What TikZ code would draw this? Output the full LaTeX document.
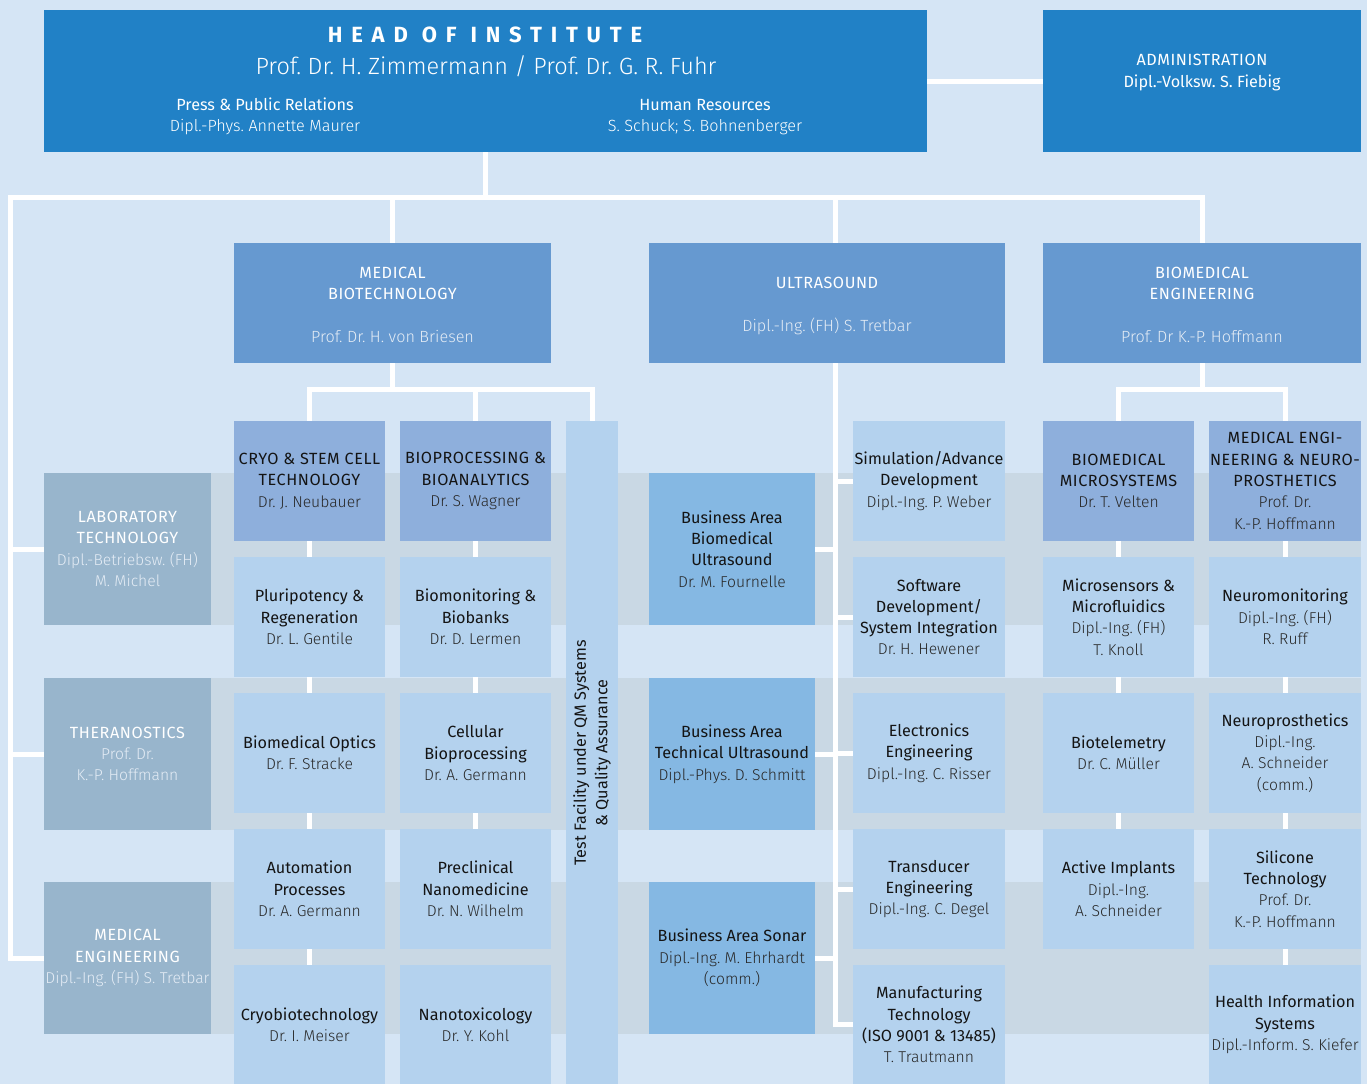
\documentclass[tikz,border=0pt]{standalone}
\usepackage{fontspec}
\setmainfont{Fira Sans}
\newfontfamily\freg{Fira Sans}
\newfontfamily\flight{Fira Sans Light}
\newfontfamily\fcaps{Fira Sans}[LetterSpace=3.5]
\newfontfamily\fspaced{Fira Sans}[LetterSpace=40]
\usetikzlibrary{positioning}
\definecolor{bgc}{RGB}{213,229,245}
\definecolor{bandc}{RGB}{201,216,228}
\definecolor{headc}{RGB}{33,129,198}
\definecolor{lvtwo}{RGB}{102,153,208}
\definecolor{darkc}{RGB}{142,175,220}
\definecolor{lightc}{RGB}{180,210,238}
\definecolor{bac}{RGB}{133,184,227}
\definecolor{grayc}{RGB}{152,181,204}
\definecolor{txtd}{RGB}{20,20,20}
\definecolor{txtn}{RGB}{40,40,40}
\definecolor{wname}{RGB}{228,236,245}
\newcommand\hdf{\freg\color{txtd}}
\newcommand\hcf{\fcaps\color{txtd}}
\newcommand\nmf{\flight\fontsize{15.7}{21.3}\selectfont\color{txtn}}
\newcommand\whf{\fcaps\color{white}}
\newcommand\wnf{\flight\fontsize{15.7}{21.3}\selectfont\color{wname}}
\pgfdeclarelayer{bglayer}
\pgfdeclarelayer{linelayer}
\pgfsetlayers{bglayer,linelayer,main}
\begin{document}
\frenchspacing
\begin{tikzpicture}[x=1pt,y=-1pt,
  box/.style={inner sep=0pt,outer sep=0pt,align=center,
    font=\fontsize{16.2}{21.3}\selectfont},
  headbox/.style={box,fill=headc},
  lvbox/.style={box,fill=lvtwo},
  darkbox/.style={box,fill=darkc},
  lightbox/.style={box,fill=lightc},
  babox/.style={box,fill=bac},
  graybox/.style={box,fill=grayc},
  conn/.style={draw=white,line width=5pt,line cap=rect},
  band/.style={fill=bandc}]
\useasboundingbox (0,0) rectangle (1367,1084);

% ---------- top level
\node[headbox,minimum width=883,minimum height=142] (head) at (485.5,81) {};
\node[headbox,minimum width=318,minimum height=142] (admin) at (1202,81) {};
\node[anchor=base,text=white,font=\fontsize{22}{24}\fspaced\bfseries] (htitle) at (485,42) {HEAD OF INSTITUTE};
\node[anchor=base,text=white,font=\fontsize{23.5}{26}\flight] (hnames) at (486,74) {Prof. Dr. H. Zimmermann / Prof. Dr. G. R. Fuhr};
\node[anchor=base,box,text=white] (press) at (265,110) {\freg Press \& Public Relations};
\node[anchor=base,box,text=white] (pressn) at (265,131) {\flight Dipl.-Phys. Annette Maurer};
\node[anchor=base,box,text=white] (hr) at (705,110) {\freg Human Resources};
\node[anchor=base,box,text=white] (hrn) at (705,131) {\flight S. Schuck; S. Bohnenberger};
\node[anchor=base,box,text=white] (admt) at (1202,65) {\fcaps ADMINISTRATION};
\node[anchor=base,box,text=white] (admn) at (1202,87) {\freg Dipl.-Volksw. S. Fiebig};

% ---------- level 2
\node[lvbox,minimum width=317,minimum height=120] (mb) at (392.5,303) {};
\node[anchor=base,box,text=white] at (392.5,278) {\fcaps MEDICAL};
\node[anchor=base,box,text=white] at (392.5,299) {\fcaps BIOTECHNOLOGY};
\node[anchor=base,box,text=wname] at (392.5,342) {\flight Prof. Dr. H. von Briesen};
\node[lvbox,minimum width=356,minimum height=120] (us) at (827,303) {};
\node[anchor=base,box,text=white] at (827,288) {\fcaps ULTRASOUND};
\node[anchor=base,box,text=wname] at (827,331) {\flight Dipl.-Ing. (FH) S. Tretbar};
\node[lvbox,minimum width=318,minimum height=120] (be) at (1202,303) {};
\node[anchor=base,box,text=white] at (1202,278) {\fcaps BIOMEDICAL};
\node[anchor=base,box,text=white] at (1202,299) {\fcaps ENGINEERING};
\node[anchor=base,box,text=wname] at (1202,342) {\flight Prof. Dr K.-P. Hoffmann};

% ---------- left column
\node[graybox,minimum width=167,minimum height=152] (lab) at (127.5,549) {\whf LABORATORY\\\whf TECHNOLOGY\\\wnf Dipl.-Betriebsw. (FH)\\\wnf M. Michel};
\node[graybox,minimum width=167,minimum height=152] (thera) at (127.5,754) {\whf THERANOSTICS\\\wnf Prof. Dr.\\\wnf K.-P. Hoffmann};
\node[graybox,minimum width=167,minimum height=152] (meden) at (127.5,958) {\whf MEDICAL\\\whf ENGINEERING\\\wnf Dipl.-Ing. (FH) S. Tretbar};

% ---------- medical biotechnology columns
\node[darkbox,minimum width=151,minimum height=120] (cryo) at (309.5,481) {\hcf CRYO \& STEM CELL\\\hcf TECHNOLOGY\\\nmf Dr. J. Neubauer};
\node[lightbox,minimum width=151,minimum height=120] (plur) at (309.5,617) {\hdf Pluripotency \&\\\hdf Regeneration\\\nmf Dr. L. Gentile};
\node[lightbox,minimum width=151,minimum height=120] (optics) at (309.5,753) {\hdf Biomedical Optics\\\nmf Dr. F. Stracke};
\node[lightbox,minimum width=151,minimum height=120] (auto) at (309.5,889) {\hdf Automation\\\hdf Processes\\\nmf Dr. A. Germann};
\node[lightbox,minimum width=151,minimum height=119] (cryob) at (309.5,1024.5) {\hdf Cryobiotechnology\\\nmf Dr. I. Meiser};

\node[darkbox,minimum width=151,minimum height=120] (biop) at (475.5,481) {\hcf BIOPROCESSING \&\\\hcf BIOANALYTICS\\\nmf Dr. S. Wagner};
\node[lightbox,minimum width=151,minimum height=120] (biomon) at (475.5,617) {\hdf Biomonitoring \&\\\hdf Biobanks\\\nmf Dr. D. Lermen};
\node[lightbox,minimum width=151,minimum height=120] (cell) at (475.5,753) {\hdf Cellular\\\hdf Bioprocessing\\\nmf Dr. A. Germann};
\node[lightbox,minimum width=151,minimum height=120] (precl) at (475.5,889) {\hdf Preclinical\\\hdf Nanomedicine\\\nmf Dr. N. Wilhelm};
\node[lightbox,minimum width=151,minimum height=119] (ntox) at (475.5,1024.5) {\hdf Nanotoxicology\\\nmf Dr. Y. Kohl};

\node[lightbox,minimum width=52,minimum height=663] (qm) at (592,752.5) {};
\node[box,rotate=90] (qmt) at (592,753) {\hdf Test Facility under QM Systems\\\hdf \& Quality Assurance};

% ---------- ultrasound
\node[babox,minimum width=166,minimum height=152] (babu) at (732,549) {\hdf Business Area\\\hdf Biomedical\\\hdf Ultrasound\\\nmf Dr. M. Fournelle};
\node[babox,minimum width=166,minimum height=152] (batu) at (732,754) {\hdf Business Area\\\hdf Technical Ultrasound\\\nmf Dipl.-Phys. D. Schmitt};
\node[babox,minimum width=166,minimum height=152] (bas) at (732,958) {\hdf Business Area Sonar\\\nmf Dipl.-Ing. M. Ehrhardt\\\nmf (comm.)};

\node[lightbox,minimum width=152,minimum height=120] (sim) at (929,481) {\hdf Simulation/Advance\\\hdf Development\\\nmf Dipl.-Ing. P. Weber};
\node[lightbox,minimum width=152,minimum height=120] (soft) at (929,617) {\hdf Software\\\hdf Development/\\\hdf System Integration\\\nmf Dr. H. Hewener};
\node[lightbox,minimum width=152,minimum height=120] (elec) at (929,753) {\hdf Electronics\\\hdf Engineering\\\nmf Dipl.-Ing. C. Risser};
\node[lightbox,minimum width=152,minimum height=120] (trans) at (929,889) {\hdf Transducer\\\hdf Engineering\\\nmf Dipl.-Ing. C. Degel};
\node[lightbox,minimum width=152,minimum height=119] (manu) at (929,1024.5) {\hdf Manufacturing\\\hdf Technology\\\hdf (ISO 9001 \& 13485)\\\nmf T. Trautmann};

% ---------- biomedical engineering
\node[darkbox,minimum width=151,minimum height=120] (bms) at (1118.5,481) {\hcf BIOMEDICAL\\\hcf MICROSYSTEMS\\\nmf Dr. T. Velten};
\node[lightbox,minimum width=151,minimum height=120] (micro) at (1118.5,617) {\hdf Microsensors \&\\\hdf Microfluidics\\\nmf Dipl.-Ing. (FH)\\\nmf T. Knoll};
\node[lightbox,minimum width=151,minimum height=120] (btel) at (1118.5,753) {\hdf Biotelemetry\\\nmf Dr. C. M\"uller};
\node[lightbox,minimum width=151,minimum height=120] (actimp) at (1118.5,889) {\hdf Active Implants\\\nmf Dipl.-Ing.\\\nmf A. Schneider};

\node[darkbox,minimum width=152,minimum height=120] (mene) at (1285,481) {\hcf MEDICAL ENGI-\\\hcf NEERING \& NEURO-\\\hcf PROSTHETICS\\\nmf Prof. Dr.\\\nmf K.-P. Hoffmann};
\node[lightbox,minimum width=152,minimum height=120] (nmon) at (1285,617) {\hdf Neuromonitoring\\\nmf Dipl.-Ing. (FH)\\\nmf R. Ruff};
\node[lightbox,minimum width=152,minimum height=120] (npro) at (1285,753) {\hdf Neuroprosthetics\\\nmf Dipl.-Ing.\\\nmf A. Schneider\\\nmf (comm.)};
\node[lightbox,minimum width=152,minimum height=120] (sili) at (1285,889) {\hdf Silicone\\\hdf Technology\\\nmf Prof. Dr.\\\nmf K.-P. Hoffmann};
\node[lightbox,minimum width=152,minimum height=119] (his) at (1285,1024.5) {\hdf Health Information\\\hdf Systems\\\nmf Dipl.-Inform. S. Kiefer};

% ---------- background and bands
\begin{pgfonlayer}{bglayer}
  \fill[bgc] (0,0) rectangle (1367,1084);
  \fill[band] (44,473) rectangle (1361,625);
  \fill[band] (44,678) rectangle (1361,830);
  \fill[band] (44,882) rectangle (1361,1034);
\end{pgfonlayer}

% ---------- connectors
\coordinate (busL) at (10,197);
\coordinate (busR) at (1202,197);
\coordinate (usTop) at (835,243);
\coordinate (usBot) at (835,363);
\coordinate (mbj) at (392.5,389);
\coordinate (bej) at (1202,389);
\begin{pgfonlayer}{linelayer}
  \draw[conn] (head.east) -- (admin.west);
  \draw[conn] (head.south) -- (head.south |- busL);
  \draw[conn] (busL) -- (busR);
  \draw[conn] (busL) |- (meden.west);
  \draw[conn] (lab.west) -- (lab.west -| busL);
  \draw[conn] (thera.west) -- (thera.west -| busL);
  \draw[conn] (mb.north) -- (mb.north |- busL);
  \draw[conn] (usTop) -- (usTop |- busL);
  \draw[conn] (be.north) -- (be.north |- busL);
  % medical biotechnology
  \draw[conn] (mb.south) -- (mbj);
  \draw[conn] (cryo.north) -- (cryo.north |- mbj) -- (qm.north |- mbj) -- (qm.north);
  \draw[conn] (biop.north) -- (biop.north |- mbj);
  \draw[conn] (cryo.south) -- (plur.north);
  \draw[conn] (plur.south) -- (optics.north);
  \draw[conn] (optics.south) -- (auto.north);
  \draw[conn] (auto.south) -- (cryob.north);
  \draw[conn] (biop.south) -- (biomon.north);
  \draw[conn] (biomon.south) -- (cell.north);
  \draw[conn] (cell.south) -- (precl.north);
  % ultrasound
  \draw[conn] (usBot) -- (manu.west -| usBot) -- (manu.west);
  \draw[conn] (babu.east) -- (babu.east -| usBot);
  \draw[conn] (batu.east) -- (batu.east -| usBot);
  \draw[conn] (bas.east) -- (bas.east -| usBot);
  \draw[conn] (sim.west) -- (sim.west -| usBot);
  \draw[conn] (soft.west) -- (soft.west -| usBot);
  \draw[conn] (elec.west) -- (elec.west -| usBot);
  \draw[conn] (trans.west) -- (trans.west -| usBot);
  % biomedical engineering
  \draw[conn] (be.south) -- (bej);
  \draw[conn] (bms.north) -- (bms.north |- bej) -- (mene.north |- bej) -- (mene.north);
  \draw[conn] (bms.south) -- (micro.north);
  \draw[conn] (micro.south) -- (btel.north);
  \draw[conn] (btel.south) -- (actimp.north);
  \draw[conn] (mene.south) -- (nmon.north);
  \draw[conn] (nmon.south) -- (npro.north);
  \draw[conn] (npro.south) -- (sili.north);
  \draw[conn] (sili.south) -- (his.north);
\end{pgfonlayer}
\end{tikzpicture}
\end{document}
